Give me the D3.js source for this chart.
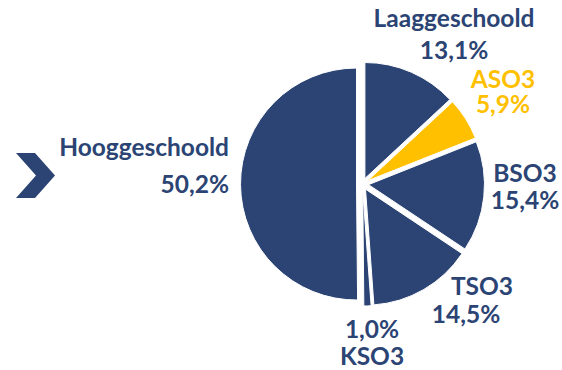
<!DOCTYPE html>
<html>
<head>
<meta charset="utf-8">
<script src="https://cdn.jsdelivr.net/npm/d3@7"></script>
<style>
  html, body { margin: 0; padding: 0; background: #ffffff; }
  svg { display: block; }
  text { font-family: Lato, "Open Sans", sans-serif; font-weight: 700; }
</style>
</head>
<body>
<svg id="chart" width="562" height="370"></svg>
<script>
// Education level shares (%), clockwise from 12 o'clock
const categories = ["Laaggeschoold", "ASO3", "BSO3", "TSO3", "KSO3", "Hooggeschoold"];
const shares = [13.1, 5.9, 15.4, 14.5, 1.0, 50.2];
const shareLabels = ["13,1%", "5,9%", "15,4%", "14,5%", "1,0%", "50,2%"];
const highlighted = "ASO3";

const BLUE = "#2b4474";
const GOLD = "#ffc000";
const FONT_SIZE = 24.5;

const cx = 362.5, cy = 184, radius = 116, explode = 6;

const svg = d3.select("#chart");

const pie = d3.pie().sort(null).value(d => d.value);
const arc = d3.arc().innerRadius(0).outerRadius(radius);

const data = categories.map((c, i) => ({ name: c, value: shares[i], label: shareLabels[i] }));
const arcs = pie(data);

const color = d => d.data.name === highlighted ? GOLD : BLUE;

// Exploded slices, each pushed outward along its bisector
const g = svg.append("g").attr("transform", `translate(${cx},${cy})`);
g.selectAll("path.slice")
  .data(arcs)
  .join("path")
  .attr("class", "slice")
  .attr("d", arc)
  .attr("fill", color)
  .attr("stroke", "#ffffff")
  .attr("stroke-width", 1)
  .attr("transform", d => {
    const a = (d.startAngle + d.endAngle) / 2;
    return `translate(${explode * Math.sin(a)},${-explode * Math.cos(a)})`;
  });

// Label layout: x, baselines of both lines, anchor, and whether the name comes first
const labelLayout = {
  "Laaggeschoold": { x: 454, y1: 27, y2: 59, anchor: "middle", nameFirst: true },
  "ASO3":          { x: 503, y1: 88, y2: 113, anchor: "middle", nameFirst: true },
  "BSO3":          { x: 525, y1: 181.5, y2: 209, anchor: "middle", nameFirst: true },
  "TSO3":          { x: 482, y1: 295, y2: 322.5, anchor: "middle", nameFirst: true, x2: 466 },
  "KSO3":          { x: 372, y1: 338, y2: 365, anchor: "middle", nameFirst: false },
  "Hooggeschoold": { x: 229, y1: 156, y2: 193, anchor: "end", nameFirst: true }
};

const labels = svg.append("g").attr("class", "labels");
arcs.forEach(d => {
  const L = labelLayout[d.data.name];
  const first = L.nameFirst ? d.data.name : d.data.label;
  const second = L.nameFirst ? d.data.label : d.data.name;
  const fill = color(d);
  labels.append("text")
    .attr("x", L.x).attr("y", L.y1)
    .attr("text-anchor", L.anchor)
    .attr("font-size", FONT_SIZE)
    .attr("fill", fill)
    .text(first);
  labels.append("text")
    .attr("x", L.x2 !== undefined ? L.x2 : L.x).attr("y", L.y2)
    .attr("text-anchor", L.anchor)
    .attr("font-size", FONT_SIZE)
    .attr("fill", fill)
    .text(second);
});

// Chevron marker on the left
const chevron = [[16, 153], [35, 153], [55, 175.5], [35, 198], [16, 198], [36, 175.5]];
svg.append("path")
  .attr("d", d3.line()(chevron) + "Z")
  .attr("fill", BLUE);
</script>
</body>
</html>
